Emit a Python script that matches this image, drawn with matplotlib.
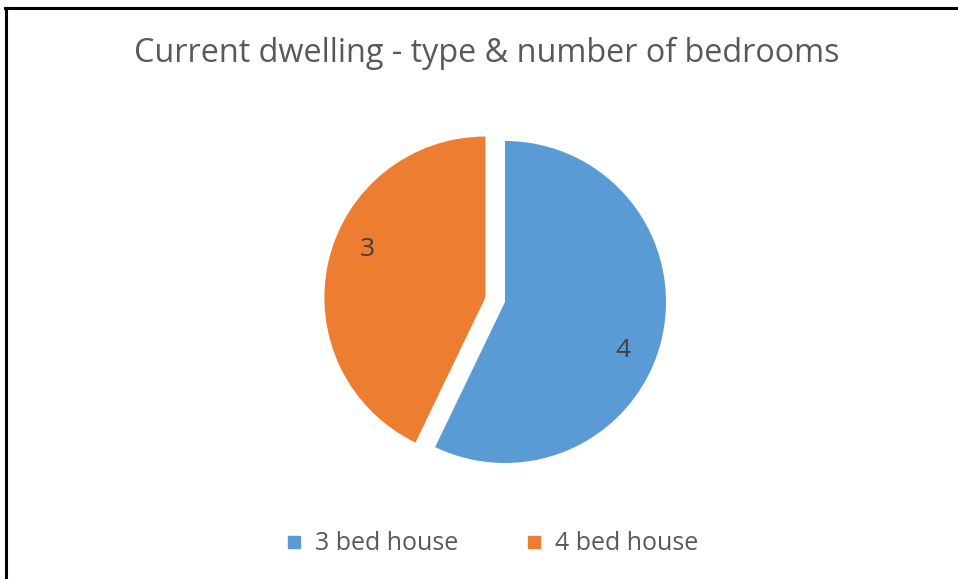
import numpy as np
import matplotlib
matplotlib.use("Agg")
import matplotlib.pyplot as plt
from matplotlib.lines import Line2D

categories = ["3 bed house", "4 bed house"]
values = [4, 3]
colors = ["#5B9BD5", "#ED7D31"]
explode = [0.0, 0.125]
title = "Current dwelling - type & number of bedrooms"

W, H = 958, 579
fig = plt.figure(figsize=(W / 100, H / 100), dpi=100)
fig.patch.set_facecolor("white")

FONT = ["Open Sans", "DejaVu Sans"]
TXT = "#595959"

# pie axes, pixel layout
R = 161.0
cx, cy = 505.0, 302.0
half = 1.2 * R
ax = fig.add_axes([(cx - half) / W, (H - cy - half) / H, 2 * half / W, 2 * half / H])

wedges, _ = ax.pie(values, colors=colors, explode=explode, startangle=90,
                   counterclock=False, radius=1.0,
                   wedgeprops=dict(linewidth=0, edgecolor="white"))
ax.set_xlim(-1.2, 1.2)
ax.set_ylim(-1.2, 1.2)
ax.set_aspect("equal")
ax.axis("off")

for w, v in zip(wedges, values):
    mid = np.deg2rad((w.theta1 + w.theta2) / 2 - 9.5)
    ccx, ccy = w.center
    ax.text(ccx + 0.79 * np.cos(mid), ccy + 0.79 * np.sin(mid), str(v),
            ha="center", va="center", fontsize=19, color="#404040", family=FONT)

fig.text(487 / W, 1 - 53 / H, title, ha="center", va="center",
         fontsize=23.3, color=TXT, family=FONT)

handles = [Line2D([0], [0], marker="s", linestyle="none", markersize=8.6,
                  markerfacecolor=c, markeredgecolor=c) for c in colors]
leg = fig.legend(handles, categories, loc="center", bbox_to_anchor=(491 / W, 1 - 544 / H),
                 ncol=2, frameon=False, handletextpad=0.47, columnspacing=2.6,
                 handlelength=0.8, prop=dict(family=FONT, size=18.0))
for t in leg.get_texts():
    t.set_color(TXT)

# chart border (top and left visible)
fig.add_artist(Line2D([5 / W, 1.0], [1 - 8 / H, 1 - 8 / H], color="black", lw=2.2,
                      transform=fig.transFigure))
fig.add_artist(Line2D([6 / W, 6 / W], [0.0, 1 - 8 / H], color="black", lw=2.2,
                      transform=fig.transFigure))

fig.savefig("out.png", dpi=100)
